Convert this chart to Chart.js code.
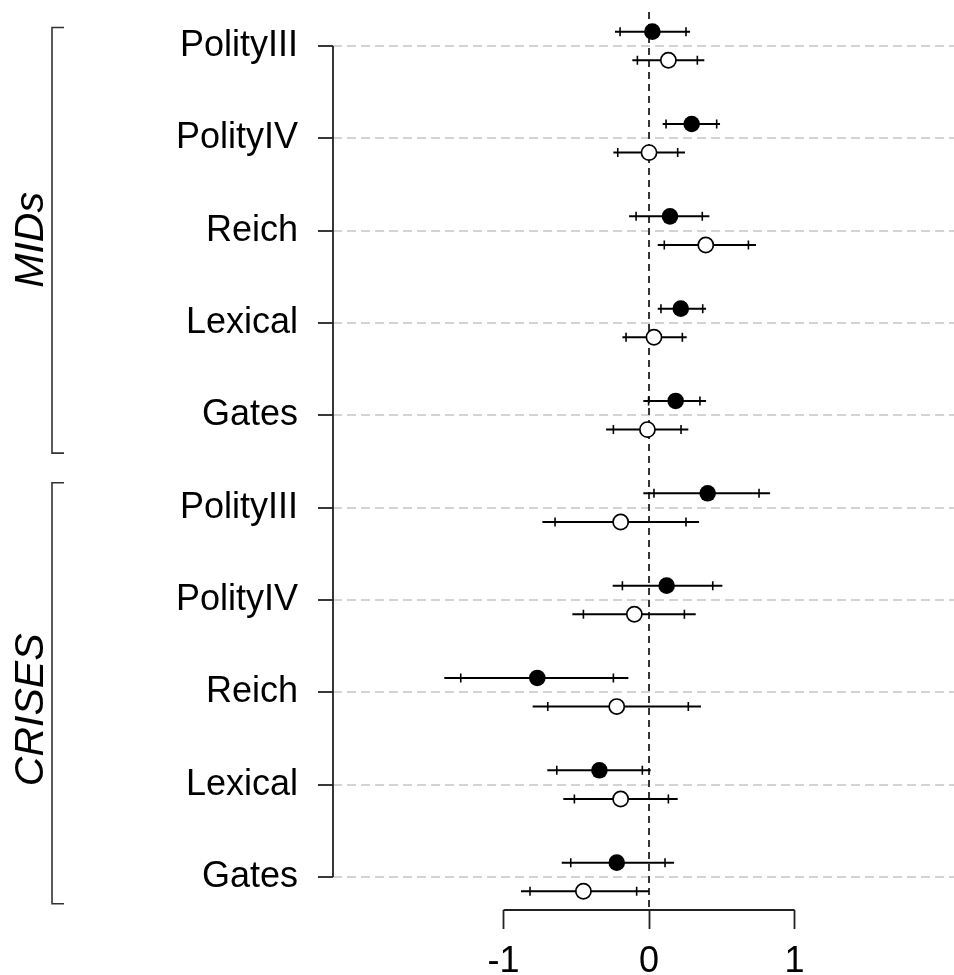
<!DOCTYPE html>
<html>
<head>
<meta charset="utf-8">
<script src="https://cdn.jsdelivr.net/npm/chart.js@4.4.1/dist/chart.umd.min.js"></script>
<style>
  body { margin: 0; background: #fff; }
  canvas { display: block; }
</style>
</head>
<body>
<canvas id="coefChart" width="954" height="975"></canvas>

<script>
    // rows, top to bottom
    const rowLabels = ["PolityIII", "PolityIV", "Reich", "Lexical", "Gates",
                       "PolityIII", "PolityIV", "Reich", "Lexical", "Gates"]
    const groupNames = ["MIDs", "CRISES"]
    const groupRows = [[0, 4], [5, 9]]

    const xTicks = [-1, 0, 1]
    const xTickLabels = ["-1", "0", "1"]

    // filled points: estimate, 90% and 95% intervals
    const filledEst  = [0.023, 0.293, 0.144, 0.218, 0.183, 0.403, 0.121, -0.768, -0.341, -0.222]
    const filledLo90 = [-0.199, 0.117, -0.089, 0.082, -0.003, 0.034, -0.183, -1.294, -0.634, -0.538]
    const filledHi90 = [0.254, 0.465, 0.366, 0.369, 0.350, 0.756, 0.438, -0.245, -0.046, 0.110]
    const filledLo95 = [-0.234, 0.094, -0.137, 0.060, -0.039, -0.039, -0.250, -1.407, -0.699, -0.600]
    const filledHi95 = [0.282, 0.488, 0.415, 0.392, 0.392, 0.832, 0.504, -0.142, 0.011, 0.172]

    // open points
    const openEst  = [0.133, 0.000, 0.390, 0.034, -0.011, -0.195, -0.101, -0.222, -0.195, -0.451]
    const openLo90 = [-0.080, -0.215, 0.105, -0.158, -0.245, -0.646, -0.451, -0.696, -0.513, -0.818]
    const openHi90 = [0.332, 0.197, 0.683, 0.229, 0.220, 0.254, 0.243, 0.270, 0.133, -0.085]
    const openLo95 = [-0.115, -0.245, 0.060, -0.183, -0.295, -0.733, -0.527, -0.800, -0.589, -0.880]
    const openHi95 = [0.380, 0.247, 0.735, 0.259, 0.270, 0.344, 0.321, 0.357, 0.197, 0.000]

    const ROW_SHIFT = 0.155
    const FONT = "'Liberation Sans', Arial, sans-serif"

    // no extra room for labels hanging over the plot edges
    const noPadding = (s) => {
        s.paddingTop = 0
        s.paddingBottom = 0
        s.paddingLeft = 0
        s.paddingRight = 0
    }

    const errorBars = {
        id: "errorBars",
        beforeDatasetsDraw(chart) {
            const {ctx, chartArea, scales: {x, y}} = chart
            ctx.save()
            // dashed zero line
            ctx.strokeStyle = "#333"
            ctx.lineWidth = 2
            ctx.setLineDash([7, 5])
            ctx.beginPath()
            ctx.moveTo(x.getPixelForValue(0), chartArea.top)
            ctx.lineTo(x.getPixelForValue(0), chartArea.bottom)
            ctx.stroke()
            ctx.setLineDash([])

            const sets = [
                [filledLo95, filledLo90, filledHi90, filledHi95, -ROW_SHIFT],
                [openLo95, openLo90, openHi90, openHi95, ROW_SHIFT]
            ]
            ctx.strokeStyle = "#000"
            ctx.lineWidth = 2
            for (const [lo95, lo90, hi90, hi95, shift] of sets) {
                rowLabels.forEach((_, i) => {
                    const py = y.getPixelForValue(i + shift)
                    ctx.beginPath()
                    ctx.moveTo(x.getPixelForValue(lo95[i]), py)
                    ctx.lineTo(x.getPixelForValue(hi95[i]), py)
                    ctx.stroke()
                    ctx.lineWidth = 1.6
                    ctx.beginPath()
                    for (const v of [lo90[i], hi90[i]]) {
                        const px = x.getPixelForValue(v)
                        ctx.moveTo(px, py - 4.5)
                        ctx.lineTo(px, py + 4.5)
                    }
                    ctx.stroke()
                    ctx.lineWidth = 2
                })
            }
            ctx.restore()
        },
        afterDraw(chart) {
            const {ctx, chartArea, scales: {x, y}} = chart
            ctx.save()
            ctx.strokeStyle = "#222"
            ctx.lineWidth = 1.8

            // R style axis lines, only between first and last tick
            ctx.beginPath()
            ctx.moveTo(x.getPixelForValue(xTicks[0]), chartArea.bottom)
            ctx.lineTo(x.getPixelForValue(xTicks[xTicks.length - 1]), chartArea.bottom)
            ctx.moveTo(chartArea.left, y.getPixelForValue(0))
            ctx.lineTo(chartArea.left, y.getPixelForValue(rowLabels.length - 1))
            ctx.stroke()

            // group brackets
            const bracketPad = [[-0.2, 0.41], [-0.27, 0.29]]
            const labelMid = [2.1, 7.19]
            ctx.strokeStyle = "#333"
            ctx.lineWidth = 1.6
            groupRows.forEach(([a, b], g) => {
                const top = y.getPixelForValue(a + bracketPad[g][0])
                const bot = y.getPixelForValue(b + bracketPad[g][1])
                ctx.beginPath()
                ctx.moveTo(64, top)
                ctx.lineTo(52, top)
                ctx.lineTo(52, bot)
                ctx.lineTo(64, bot)
                ctx.stroke()

                ctx.save()
                ctx.translate(43, y.getPixelForValue(labelMid[g]))
                ctx.rotate(-Math.PI / 2)
                ctx.font = "italic 41px " + FONT
                ctx.fillStyle = "#000"
                ctx.textAlign = "center"
                ctx.textBaseline = "alphabetic"
                ctx.fillText(groupNames[g], 0, 0)
                ctx.restore()
            })
            ctx.restore()
        }
    }

    const coefChart = new Chart(document.getElementById("coefChart"), {
        type: "scatter",
        data: {
            datasets: [{
                label: "filled",
                data: filledEst.map((v, i) => ({x: v, y: i - ROW_SHIFT})),
                pointRadius: 8.3,
                backgroundColor: "#000",
                borderColor: "#000",
                borderWidth: 0
            }, {
                label: "open",
                data: openEst.map((v, i) => ({x: v, y: i + ROW_SHIFT})),
                pointRadius: 7.6,
                backgroundColor: "#fff",
                borderColor: "#000",
                borderWidth: 1.7
            }]
        },
        options: {
            responsive: false,
            animation: false,
            devicePixelRatio: 1,
            layout: {
                autoPadding: false,
                padding: {top: 12, right: 0, bottom: 0, left: 0}
            },
            plugins: {
                legend: {display: false},
                tooltip: {enabled: false}
            },
            scales: {
                x: {
                    type: "linear",
                    min: -2.172,
                    max: 2.096,
                    afterBuildTicks: (s) => { s.ticks = xTicks.map(v => ({value: v})) },
                    afterFit: (s) => { s.height = 65; noPadding(s) },
                    border: {display: false},
                    grid: {
                        drawOnChartArea: false,
                        tickLength: 19,
                        tickColor: "#222",
                        tickWidth: 1.8
                    },
                    ticks: {
                        autoSkip: false,
                        maxRotation: 0,
                        padding: 11,
                        color: "#000",
                        font: {family: FONT, size: 36},
                        callback: (v) => xTickLabels[xTicks.indexOf(v)]
                    }
                },
                y: {
                    type: "linear",
                    reverse: true,
                    min: -0.368,
                    max: 9.358,
                    afterBuildTicks: (s) => { s.ticks = rowLabels.map((_, i) => ({value: i})) },
                    afterFit: (s) => { s.width = 333; noPadding(s) },
                    border: {display: false, dash: [9, 5]},
                    grid: {
                        color: "#d3d3d3",
                        lineWidth: 2,
                        tickLength: 15,
                        tickColor: "#222",
                        tickWidth: 1.8,
                        tickBorderDash: []
                    },
                    ticks: {
                        autoSkip: false,
                        padding: 20,
                        color: "#000",
                        font: {family: FONT, size: 36},
                        callback: (v) => rowLabels[v]
                    }
                }
            }
        },
        plugins: [errorBars]
    })
</script>
</body>
</html>
